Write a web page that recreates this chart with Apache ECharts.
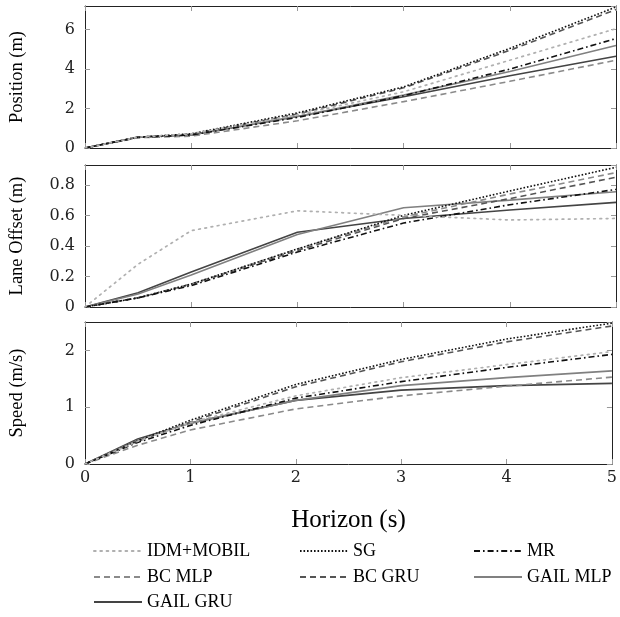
<!DOCTYPE html>
<html>
<head>
<meta charset="utf-8">
<script src="https://cdn.jsdelivr.net/npm/echarts@6/dist/echarts.min.js"></script>
<style>
html,body{margin:0;padding:0;background:#fff;}
#chart{width:620px;height:617px;}
</style>
</head>
<body>
<div id="chart"></div>
<script>
var horizon = [0, 0.5, 1, 2, 3, 4, 5];
var xTickLabels = ['0', '1', '2', '3', '4', '5'];
var seriesNames = ['IDM+MOBIL', 'SG', 'MR', 'BC MLP', 'BC GRU', 'GAIL MLP', 'GAIL GRU'];

var posIDM     = [0, 0.55, 0.72, 1.68, 2.85, 4.45, 6.05];
var posSG      = [0, 0.55, 0.72, 1.78, 3.10, 5.05, 7.15];
var posMR      = [0, 0.54, 0.66, 1.55, 2.65, 4.00, 5.55];
var posBCMLP   = [0, 0.52, 0.60, 1.38, 2.35, 3.38, 4.45];
var posBCGRU   = [0, 0.54, 0.70, 1.72, 3.05, 4.95, 7.02];
var posGAILMLP = [0, 0.55, 0.66, 1.60, 2.68, 3.88, 5.20];
var posGAILGRU = [0, 0.55, 0.66, 1.60, 2.60, 3.66, 4.65];

var laneIDM     = [0, 0.28, 0.50, 0.63, 0.60, 0.57, 0.58];
var laneSG      = [0, 0.06, 0.15, 0.38, 0.60, 0.76, 0.915];
var laneMR      = [0, 0.06, 0.14, 0.36, 0.55, 0.67, 0.77];
var laneBCMLP   = [0, 0.06, 0.15, 0.38, 0.59, 0.74, 0.88];
var laneBCGRU   = [0, 0.06, 0.15, 0.37, 0.58, 0.71, 0.85];
var laneGAILMLP = [0, 0.085, 0.21, 0.475, 0.65, 0.70, 0.755];
var laneGAILGRU = [0, 0.093, 0.23, 0.49, 0.58, 0.635, 0.685];

var spdIDM     = [0, 0.40, 0.73, 1.20, 1.52, 1.75, 1.98];
var spdSG      = [0, 0.41, 0.77, 1.40, 1.84, 2.20, 2.48];
var spdMR      = [0, 0.38, 0.68, 1.16, 1.45, 1.70, 1.93];
var spdBCMLP   = [0, 0.33, 0.60, 0.97, 1.20, 1.37, 1.53];
var spdBCGRU   = [0, 0.40, 0.74, 1.36, 1.80, 2.15, 2.43];
var spdGAILMLP = [0, 0.42, 0.72, 1.12, 1.38, 1.52, 1.64];
var spdGAILGRU = [0, 0.44, 0.72, 1.12, 1.30, 1.38, 1.42];

var panels = [
  {name: 'Position (m)', max: 7.2, interval: 2,
   data: [posIDM, posSG, posMR, posBCMLP, posBCGRU, posGAILMLP, posGAILGRU]},
  {name: 'Lane Offset (m)', max: 0.93, interval: 0.2,
   data: [laneIDM, laneSG, laneMR, laneBCMLP, laneBCGRU, laneGAILMLP, laneGAILGRU]},
  {name: 'Speed (m/s)', max: 2.5, interval: 1,
   data: [spdIDM, spdSG, spdMR, spdBCMLP, spdBCGRU, spdGAILMLP, spdGAILGRU]}
];

var styles = [
  {color: '#b0b0b0', width: 1.7, type: [1.7, 4.6], cap: 'round'},
  {color: '#111111', width: 1.6, type: [1.6, 1.9], cap: 'butt'},
  {color: '#111111', width: 1.6, type: [6, 3, 1.6, 3], cap: 'butt'},
  {color: '#8a8a8a', width: 1.6, type: [6, 4], cap: 'butt'},
  {color: '#555555', width: 1.6, type: [6, 4], cap: 'butt'},
  {color: '#808080', width: 1.6, type: 'solid', cap: 'butt'},
  {color: '#444444', width: 1.6, type: 'solid', cap: 'butt'}
];

var SERIF = 'Liberation Serif';
var TICKFONT = 'DejaVu Serif';
var gridTops = [6, 165, 322];
var gridH = 142;
var grids = [], xAxes = [], yAxes = [], series = [];
var axisLineStyle = {color: '#222', width: 1};
var tickStyle = {show: true, inside: true, length: 5, lineStyle: {color: '#999', width: 1}};

panels.forEach(function (p, i) {
  grids.push({left: 83, right: 4, top: gridTops[i], height: gridH, containLabel: false});
  var isBottom = (i === panels.length - 1);
  xAxes.push({
    type: 'value', gridIndex: i, min: 0, max: 5, interval: 1, position: 'bottom',
    axisLine: {show: true, onZero: false, lineStyle: axisLineStyle},
    axisTick: tickStyle, splitLine: {show: false},
    axisLabel: {show: isBottom, margin: 6, fontFamily: TICKFONT, fontSize: 16, color: '#222',
      formatter: function (v) { return xTickLabels[Math.round(v)]; }},
    name: isBottom ? 'Horizon (s)' : '', nameLocation: 'middle', nameGap: 44,
    nameTextStyle: {fontFamily: SERIF, fontSize: 25, color: '#000'}
  });
  xAxes.push({
    type: 'value', gridIndex: i, min: 0, max: 5, interval: 1, position: 'top',
    axisLine: {show: true, onZero: false, lineStyle: axisLineStyle},
    axisTick: tickStyle, splitLine: {show: false}, axisLabel: {show: false}
  });
  yAxes.push({
    type: 'value', gridIndex: i, min: 0, max: p.max, interval: p.interval, position: 'left',
    axisLine: {show: true, onZero: false, lineStyle: axisLineStyle},
    axisTick: tickStyle, splitLine: {show: false},
    axisLabel: {show: true, margin: 10, fontFamily: TICKFONT, fontSize: 16, color: '#222', showMaxLabel: false},
    name: p.name, nameLocation: 'middle', nameGap: 58, nameRotate: 90,
    nameTextStyle: {fontFamily: SERIF, fontSize: 18.5, color: '#000'}
  });
  yAxes.push({
    type: 'value', gridIndex: i, min: 0, max: p.max, interval: p.interval, position: 'right',
    axisLine: {show: true, onZero: false, lineStyle: axisLineStyle},
    axisTick: tickStyle, splitLine: {show: false}, axisLabel: {show: false}
  });
  p.data.forEach(function (vals, k) {
    var s = styles[k];
    series.push({
      type: 'line', name: seriesNames[k], xAxisIndex: 2 * i, yAxisIndex: 2 * i,
      data: horizon.map(function (x, j) { return [x, vals[j]]; }),
      symbol: 'none', silent: true, animation: false, z: 10 - k,
      lineStyle: {color: s.color, width: s.width, type: s.type, cap: s.cap},
      itemStyle: {color: s.color}
    });
  });
});

function mkLegend(name, left, rowCenter) {
  return {
    data: [name], orient: 'horizontal', left: left, top: rowCenter - 9,
    itemWidth: 48, itemHeight: 14, padding: 0,
    itemStyle: {opacity: 0, borderWidth: 0},
    textStyle: {fontFamily: SERIF, fontSize: 18, color: '#000', padding: [0, 0, 0, 0]},
    selectedMode: false
  };
}

var chart = echarts.init(document.getElementById('chart'), null, {renderer: 'canvas'});
chart.setOption({
  backgroundColor: '#fff',
  animation: false,
  grid: grids,
  xAxis: xAxes,
  yAxis: yAxes,
  legend: [
    mkLegend('IDM+MOBIL', 93, 551),
    mkLegend('SG', 299, 551),
    mkLegend('MR', 473, 551),
    mkLegend('BC MLP', 93, 577),
    mkLegend('BC GRU', 299, 577),
    mkLegend('GAIL MLP', 473, 577),
    mkLegend('GAIL GRU', 93, 602)
  ],
  series: series
});
</script>
</body>
</html>
